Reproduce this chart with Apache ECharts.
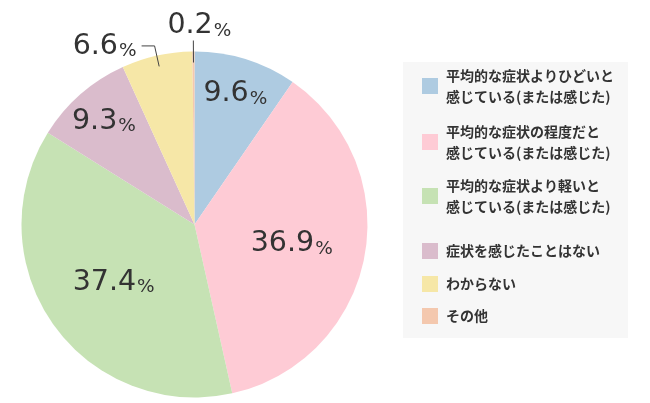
<!DOCTYPE html>
<html><head><meta charset="utf-8">
<script src="https://cdn.jsdelivr.net/npm/echarts@6/dist/echarts.min.js"></script>
<style>html,body{margin:0;padding:0;background:#fff}#c{width:650px;height:403px}</style>
</head><body><div id="c"></div>
<script>
// ---- data ----
const categories = [
  '平均的な症状よりひどいと\n感じている(または感じた)',
  '平均的な症状の程度だと\n感じている(または感じた)',
  '平均的な症状より軽いと\n感じている(または感じた)',
  '症状を感じたことはない',
  'わからない',
  'その他'
];
const values = [9.6, 36.9, 37.4, 9.3, 6.6, 0.2];

// ---- style ----
const colors = ['#aecbe1', '#fecbd5', '#c6e2b4', '#dabccc', '#f6e7a7', '#f4c8ae'];
const labelGroup = ['ring', 'core', 'core', 'ring', 'line', 'line'];
const legendIconTops = [78, 134, 188, 243, 276, 308];
const CENTER = [194.5, 224.5];
const LH = 21;

const rich = {
  n: { fontFamily: 'DejaVu Sans', fontSize: 28.5, color: '#333', lineHeight: 30, verticalAlign: 'bottom' },
  p: { fontFamily: 'DejaVu Sans', fontSize: 18.5, color: '#333', lineHeight: 23, verticalAlign: 'bottom', padding: [0, 0, 0, 1] }
};
const fmt = p => '{n|' + p.value.toFixed(1) + '}{p|%}';

function overlay(radius, group, extra) {
  return Object.assign({
    type: 'pie', center: CENTER, radius: radius, startAngle: 90, silent: true,
    avoidLabelOverlap: false, emphasis: { disabled: true }, z: 3,
    itemStyle: { color: 'rgba(0,0,0,0)', borderWidth: 0 },
    label: { show: true, position: group === 'line' ? 'outside' : 'inside', formatter: fmt, rich: rich, textBorderWidth: 0 },
    labelLine: { show: group === 'line', length: 21, length2: 13, smooth: false, lineStyle: { color: '#444', width: 1 } },
    data: values.map((v, i) => {
      const d = { name: categories[i], value: v, label: { show: labelGroup[i] === group }, labelLine: { show: group === 'line' && labelGroup[i] === 'line' } };
      if (group === 'line' && i === 5) { d.labelLine.length = 22; d.labelLine.length2 = 0; d.label.distanceToLabelLine = 0; }
      return d;
    })
  }, extra || {});
}

const legends = categories.map((name, i) => {
  const lines = name.split('\n').length;
  const H = (2 * lines - 1) * LH;
  return {
    data: [name], left: 422, top: legendIconTops[i] + (8 - H / 2), padding: 0,
    orient: 'vertical', icon: 'rect', itemWidth: 16, itemHeight: 16, selectedMode: false,
    textStyle: { fontFamily: 'Noto Sans CJK JP', fontSize: 14, fontWeight: 'bold', color: '#333',
      lineHeight: LH, padding: [(lines - 1) * LH, 0, 0, 3] }
  };
});

const chart = echarts.init(document.getElementById('c'), null, { renderer: 'canvas' });
chart.setOption({
  animation: false,
  backgroundColor: '#fff',
  graphic: [{ type: 'rect', left: 403, top: 62, shape: { width: 225, height: 276 }, style: { fill: '#f7f7f7' }, z: 0 }],
  legend: legends,
  series: [
    {
      type: 'pie', center: CENTER, radius: 173, startAngle: 90, silent: true,
      emphasis: { disabled: true }, label: { show: false }, labelLine: { show: false },
      itemStyle: { borderWidth: 0 },
      data: values.map((v, i) => ({ name: categories[i], value: v, itemStyle: { color: colors[i] } }))
    },
    overlay([40, 152], 'core'),
    overlay([120, 149], 'ring'),
    overlay([0, 162], 'line', {
      labelLayout: p => (p.dataIndex === 5 ? { align: 'center', verticalAlign: 'bottom', dx: 6 } : {})
    })
  ]
});
</script></body></html>
